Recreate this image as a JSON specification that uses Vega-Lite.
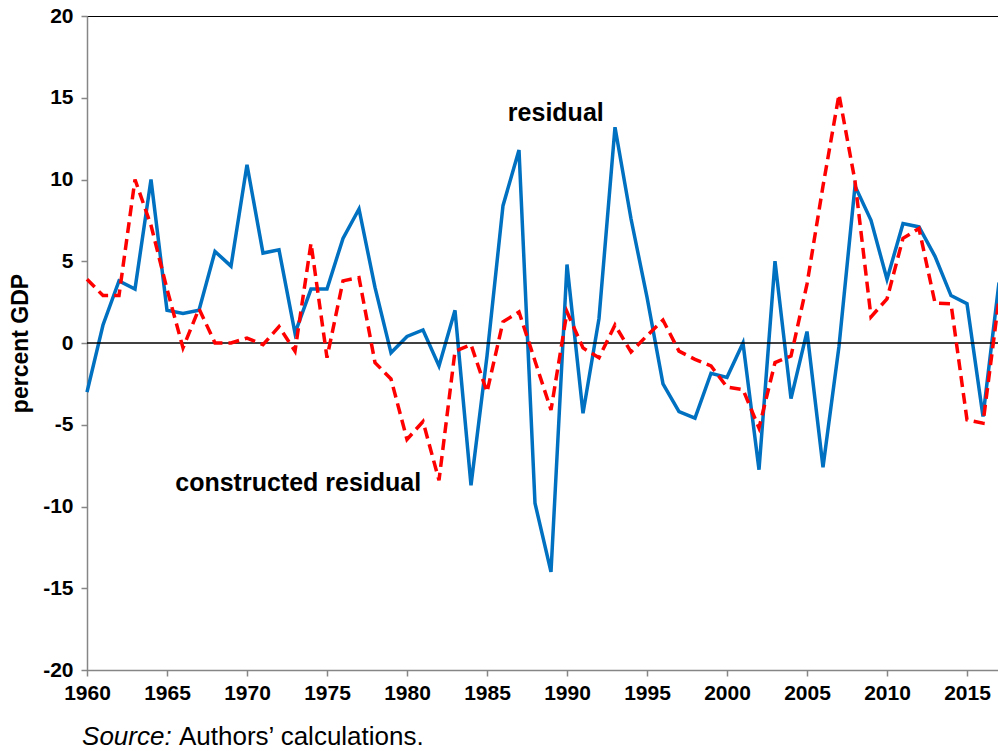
{
  "$schema": "https://vega.github.io/schema/vega-lite/v6.json",
  "width": 912,
  "height": 654,
  "autosize": {"type": "none"},
  "padding": {"left": 87, "top": 16, "right": 0, "bottom": 81},
  "background": "white",
  "config": {
    "font": "Liberation Sans",
    "view": {"stroke": "#000000", "strokeWidth": 1},
    "axis": {"grid": false, "domainColor": "#868686", "tickColor": "#868686", "domainWidth": 1.5, "tickWidth": 1.5, "labelFont": "Liberation Sans", "labelFontWeight": "bold", "labelFontSize": 21, "labelColor": "#000000", "titleFont": "Liberation Sans", "titleColor": "#000000"}
  },
  "datasets": {
    "series": [
      {"year": 1960, "residual": -3.0, "constructed": 3.9},
      {"year": 1961, "residual": 1.1, "constructed": 2.9},
      {"year": 1962, "residual": 3.8, "constructed": 2.9},
      {"year": 1963, "residual": 3.3, "constructed": 10.0},
      {"year": 1964, "residual": 10.0, "constructed": 7.2},
      {"year": 1965, "residual": 2.0, "constructed": 3.3},
      {"year": 1966, "residual": 1.8, "constructed": -0.3},
      {"year": 1967, "residual": 2.0, "constructed": 2.1},
      {"year": 1968, "residual": 5.6, "constructed": 0.0},
      {"year": 1969, "residual": 4.7, "constructed": 0.0},
      {"year": 1970, "residual": 10.9, "constructed": 0.3},
      {"year": 1971, "residual": 5.5, "constructed": -0.1},
      {"year": 1972, "residual": 5.7, "constructed": 1.0},
      {"year": 1973, "residual": 0.6, "constructed": -0.5},
      {"year": 1974, "residual": 3.3, "constructed": 6.1},
      {"year": 1975, "residual": 3.3, "constructed": -0.9},
      {"year": 1976, "residual": 6.4, "constructed": 3.8},
      {"year": 1977, "residual": 8.2, "constructed": 4.0},
      {"year": 1978, "residual": 3.4, "constructed": -1.2},
      {"year": 1979, "residual": -0.6, "constructed": -2.2},
      {"year": 1980, "residual": 0.4, "constructed": -5.9},
      {"year": 1981, "residual": 0.8, "constructed": -4.8},
      {"year": 1982, "residual": -1.4, "constructed": -8.4},
      {"year": 1983, "residual": 2.0, "constructed": -0.5},
      {"year": 1984, "residual": -8.7, "constructed": -0.1},
      {"year": 1985, "residual": -0.8, "constructed": -3.0},
      {"year": 1986, "residual": 8.4, "constructed": 1.3},
      {"year": 1987, "residual": 11.8, "constructed": 1.9},
      {"year": 1988, "residual": -9.8, "constructed": -1.1},
      {"year": 1989, "residual": -14.0, "constructed": -4.1},
      {"year": 1990, "residual": 4.8, "constructed": 1.9},
      {"year": 1991, "residual": -4.3, "constructed": -0.3},
      {"year": 1992, "residual": 1.5, "constructed": -0.9},
      {"year": 1993, "residual": 13.2, "constructed": 1.1},
      {"year": 1994, "residual": 7.6, "constructed": -0.55},
      {"year": 1995, "residual": 2.8, "constructed": 0.45},
      {"year": 1996, "residual": -2.5, "constructed": 1.4},
      {"year": 1997, "residual": -4.2, "constructed": -0.5},
      {"year": 1998, "residual": -4.6, "constructed": -1.0},
      {"year": 1999, "residual": -1.85, "constructed": -1.4},
      {"year": 2000, "residual": -2.1, "constructed": -2.7},
      {"year": 2001, "residual": 0.0, "constructed": -2.85},
      {"year": 2002, "residual": -7.75, "constructed": -5.2},
      {"year": 2003, "residual": 5.0, "constructed": -1.2},
      {"year": 2004, "residual": -3.4, "constructed": -0.8},
      {"year": 2005, "residual": 0.7, "constructed": 3.6},
      {"year": 2006, "residual": -7.6, "constructed": 9.6},
      {"year": 2007, "residual": -0.2, "constructed": 15.2},
      {"year": 2008, "residual": 9.6, "constructed": 9.9},
      {"year": 2009, "residual": 7.5, "constructed": 1.6},
      {"year": 2010, "residual": 3.9, "constructed": 2.7},
      {"year": 2011, "residual": 7.3, "constructed": 6.4},
      {"year": 2012, "residual": 7.1, "constructed": 7.0},
      {"year": 2013, "residual": 5.3, "constructed": 2.45},
      {"year": 2014, "residual": 2.9, "constructed": 2.4},
      {"year": 2015, "residual": 2.4, "constructed": -4.7},
      {"year": 2016, "residual": -4.5, "constructed": -4.9},
      {"year": 2017, "residual": 3.7, "constructed": 2.7}
    ],
    "one": [{}]
  },
  "layer": [
    {
      "data": {"name": "series"},
      "mark": {"type": "line", "color": "#0070C0", "strokeWidth": 3.5, "strokeJoin": "miter"},
      "encoding": {
        "x": {"field": "year", "type": "quantitative", "scale": {"domain": [1960, 2017], "nice": false, "zero": false},
          "axis": {"title": null, "values": [1960, 1965, 1970, 1975, 1980, 1985, 1990, 1995, 2000, 2005, 2010, 2015], "format": "d", "tickSize": 6, "labelPadding": 6, "labelFlush": false}},
        "y": {"field": "residual", "type": "quantitative", "scale": {"domain": [-20, 20], "nice": false},
          "axis": {"title": "percent GDP", "values": [-20, -15, -10, -5, 0, 5, 10, 15, 20], "labelExpr": "'' + datum.value", "tickSize": 6, "labelPadding": 8,
            "titleFontSize": 23, "titleFontWeight": "bold", "titleX": -67, "titleY": 327, "titleAlign": "center", "titleBaseline": "middle", "titleAngle": -90}}
      }
    },
    {
      "data": {"name": "one"},
      "mark": {"type": "rule", "color": "#000000", "strokeWidth": 1.5},
      "encoding": {"y": {"datum": 0, "type": "quantitative"}}
    },
    {
      "data": {"name": "series"},
      "mark": {"type": "line", "color": "#FF0000", "strokeWidth": 3.5, "strokeDash": [11, 6]},
      "encoding": {
        "x": {"field": "year", "type": "quantitative"},
        "y": {"field": "constructed", "type": "quantitative"}
      }
    },
    {
      "data": {"name": "one"},
      "mark": {"type": "text", "text": "residual", "font": "Liberation Sans", "fontWeight": "bold", "fontSize": 25, "align": "center", "baseline": "middle"},
      "encoding": {"x": {"datum": 1989.3, "type": "quantitative"}, "y": {"datum": 14.08, "type": "quantitative"}}
    },
    {
      "data": {"name": "one"},
      "mark": {"type": "text", "text": "constructed residual", "font": "Liberation Sans", "fontWeight": "bold", "fontSize": 25, "align": "center", "baseline": "middle"},
      "encoding": {"x": {"datum": 1973.2, "type": "quantitative"}, "y": {"datum": -8.55, "type": "quantitative"}}
    },
    {
      "data": {"name": "one"},
      "mark": {"type": "text", "text": "Source:", "font": "Liberation Sans", "fontStyle": "italic", "fontSize": 26, "align": "left", "baseline": "alphabetic"},
      "encoding": {"x": {"datum": 1959.69, "type": "quantitative"}, "y": {"datum": -24.6, "type": "quantitative"}}
    },
    {
      "data": {"name": "one"},
      "mark": {"type": "text", "text": "Authors’ calculations.", "font": "Liberation Sans", "fontSize": 26, "align": "left", "baseline": "alphabetic"},
      "encoding": {"x": {"datum": 1965.75, "type": "quantitative"}, "y": {"datum": -24.6, "type": "quantitative"}}
    }
  ]
}
